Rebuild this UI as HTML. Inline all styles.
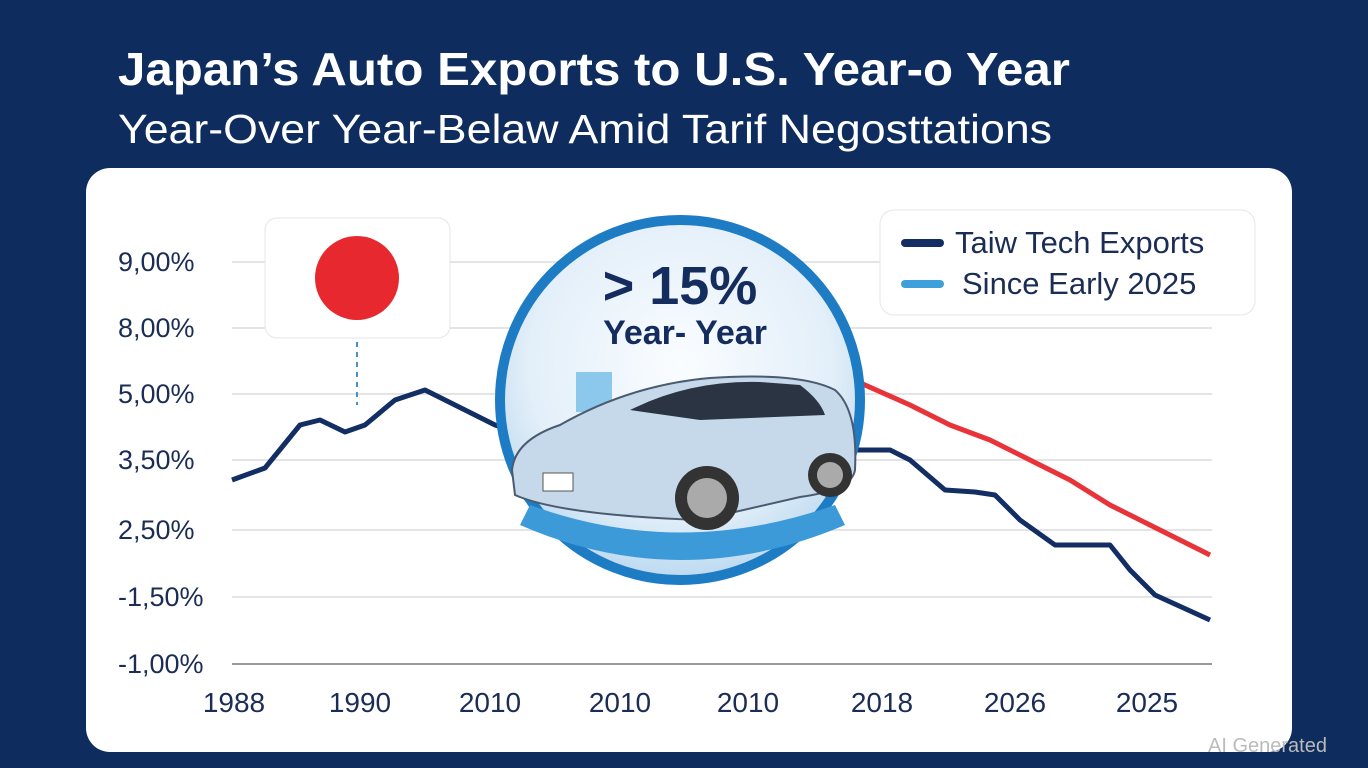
<!DOCTYPE html><html><head><style>
body{margin:0;width:1368px;height:768px;overflow:hidden;background:#0e2c5e;font-family:"Liberation Sans",sans-serif}
.t{position:absolute;color:#fff;white-space:nowrap;transform-origin:0 0}
</style></head><body>
<div class="t" style="left:118px;top:42px;font-size:46px;font-weight:bold;transform:scaleX(1.07)">Japan’s Auto Exports to U.S. Year-o Year</div>
<div class="t" style="left:118px;top:106px;font-size:41px;transform:scaleX(1.09)">Year-Over Year-Belaw Amid Tarif Negosttations</div>
<svg width="1368" height="768" style="position:absolute;left:0;top:0">
<rect x="86" y="168" width="1206" height="584" rx="24" fill="#fff"/>
<g stroke="#dcdcdc" stroke-width="1.5">
<line x1="232" y1="262" x2="1212" y2="262"/><line x1="232" y1="328" x2="1212" y2="328"/><line x1="232" y1="394" x2="1212" y2="394"/><line x1="232" y1="460" x2="1212" y2="460"/><line x1="232" y1="530" x2="1212" y2="530"/><line x1="232" y1="597" x2="1212" y2="597"/></g>
<line x1="232" y1="664" x2="1212" y2="664" stroke="#999" stroke-width="2"/>
<g font-size="27" fill="#1b2d55" font-family="Liberation Sans">
<text x="118" y="271">9,00%</text><text x="118" y="337">8,00%</text><text x="118" y="403">5,00%</text><text x="118" y="469">3,50%</text><text x="118" y="539">2,50%</text><text x="118" y="606">-1,50%</text><text x="118" y="673">-1,00%</text>
<g font-size="28" text-anchor="middle"><text x="234" y="712">1988</text><text x="360" y="712">1990</text><text x="490" y="712">2010</text><text x="620" y="712">2010</text><text x="748" y="712">2010</text><text x="882" y="712">2018</text><text x="1015" y="712">2026</text><text x="1147" y="712">2025</text></g></g>
<polyline fill="none" stroke="#132e63" stroke-width="5" stroke-linejoin="round" points="232,480 265,468 300,425 320,420 345,432 365,425 395,400 425,390 455,405 495,425 540,440"/>
<polyline fill="none" stroke="#132e63" stroke-width="5" stroke-linejoin="round" points="840,450 890,450 910,460 945,490 975,492 995,495 1020,520 1055,545 1090,545 1110,545 1130,570 1155,595 1210,620"/>
<polyline fill="none" stroke="#e8333a" stroke-width="5" stroke-linejoin="round" points="850,378 865,385 910,405 950,425 990,440 1030,460 1070,480 1110,505 1150,525 1210,555"/>
<rect x="265" y="218" width="185" height="120" rx="12" fill="#fff" stroke="#e6e6e6"/>
<circle cx="357" cy="278" r="42" fill="#e8282f"/>
<line x1="357" y1="342" x2="357" y2="405" stroke="#4a90c8" stroke-width="2" stroke-dasharray="5,5"/>
<rect x="880" y="210" width="375" height="105" rx="14" fill="#fff" stroke="#e6e6e6"/>
<line x1="905" y1="243" x2="940" y2="243" stroke="#132e63" stroke-width="8" stroke-linecap="round"/>
<line x1="905" y1="284" x2="940" y2="284" stroke="#3da0da" stroke-width="8" stroke-linecap="round"/>
<g font-size="31" fill="#1b2d55"><text x="955" y="253">Taiw Tech Exports</text><text x="962" y="294">Since Early 2025</text></g>
<defs><radialGradient id="g" cx="50%" cy="40%" r="60%"><stop offset="0" stop-color="#fafdff"/><stop offset="0.7" stop-color="#e3eff9"/><stop offset="1" stop-color="#bcd9f0"/></radialGradient></defs>
<circle cx="680" cy="400" r="180" fill="url(#g)" stroke="#1e7cc4" stroke-width="10"/>
<path d="M530 505 Q680 560 835 505 L845 525 Q680 595 520 525Z" fill="#3d9ad8"/>
<rect x="576" y="372" width="36" height="40" fill="#8cc7ec"/>
<path d="M512 470 Q515 440 560 425 Q630 385 710 378 Q800 372 835 390 Q858 410 855 470 Q852 490 800 497 L700 520 Q560 515 515 495Z" fill="#c5d9ea" stroke="#4a5a70" stroke-width="2"/>
<path d="M630 410 Q690 380 760 382 L800 385 Q820 400 825 415 L700 420Z" fill="#2b3442"/>
<circle cx="707" cy="498" r="32" fill="#333"/><circle cx="707" cy="498" r="20" fill="#aaa"/>
<circle cx="830" cy="475" r="22" fill="#333"/><circle cx="830" cy="475" r="13" fill="#aaa"/>
<rect x="543" y="473" width="30" height="18" fill="#fff" stroke="#555"/>
<text x="680" y="304" text-anchor="middle" font-size="54" font-weight="bold" fill="#142d5e" font-family="Liberation Sans">&gt; 15%</text>
<text x="685" y="344" text-anchor="middle" font-size="34" font-weight="bold" fill="#142d5e" font-family="Liberation Sans">Year- Year</text>
<text x="1208" y="752" font-size="20" fill="#bbb" font-family="Liberation Sans">AI Generated</text>
</svg>
</body></html>
